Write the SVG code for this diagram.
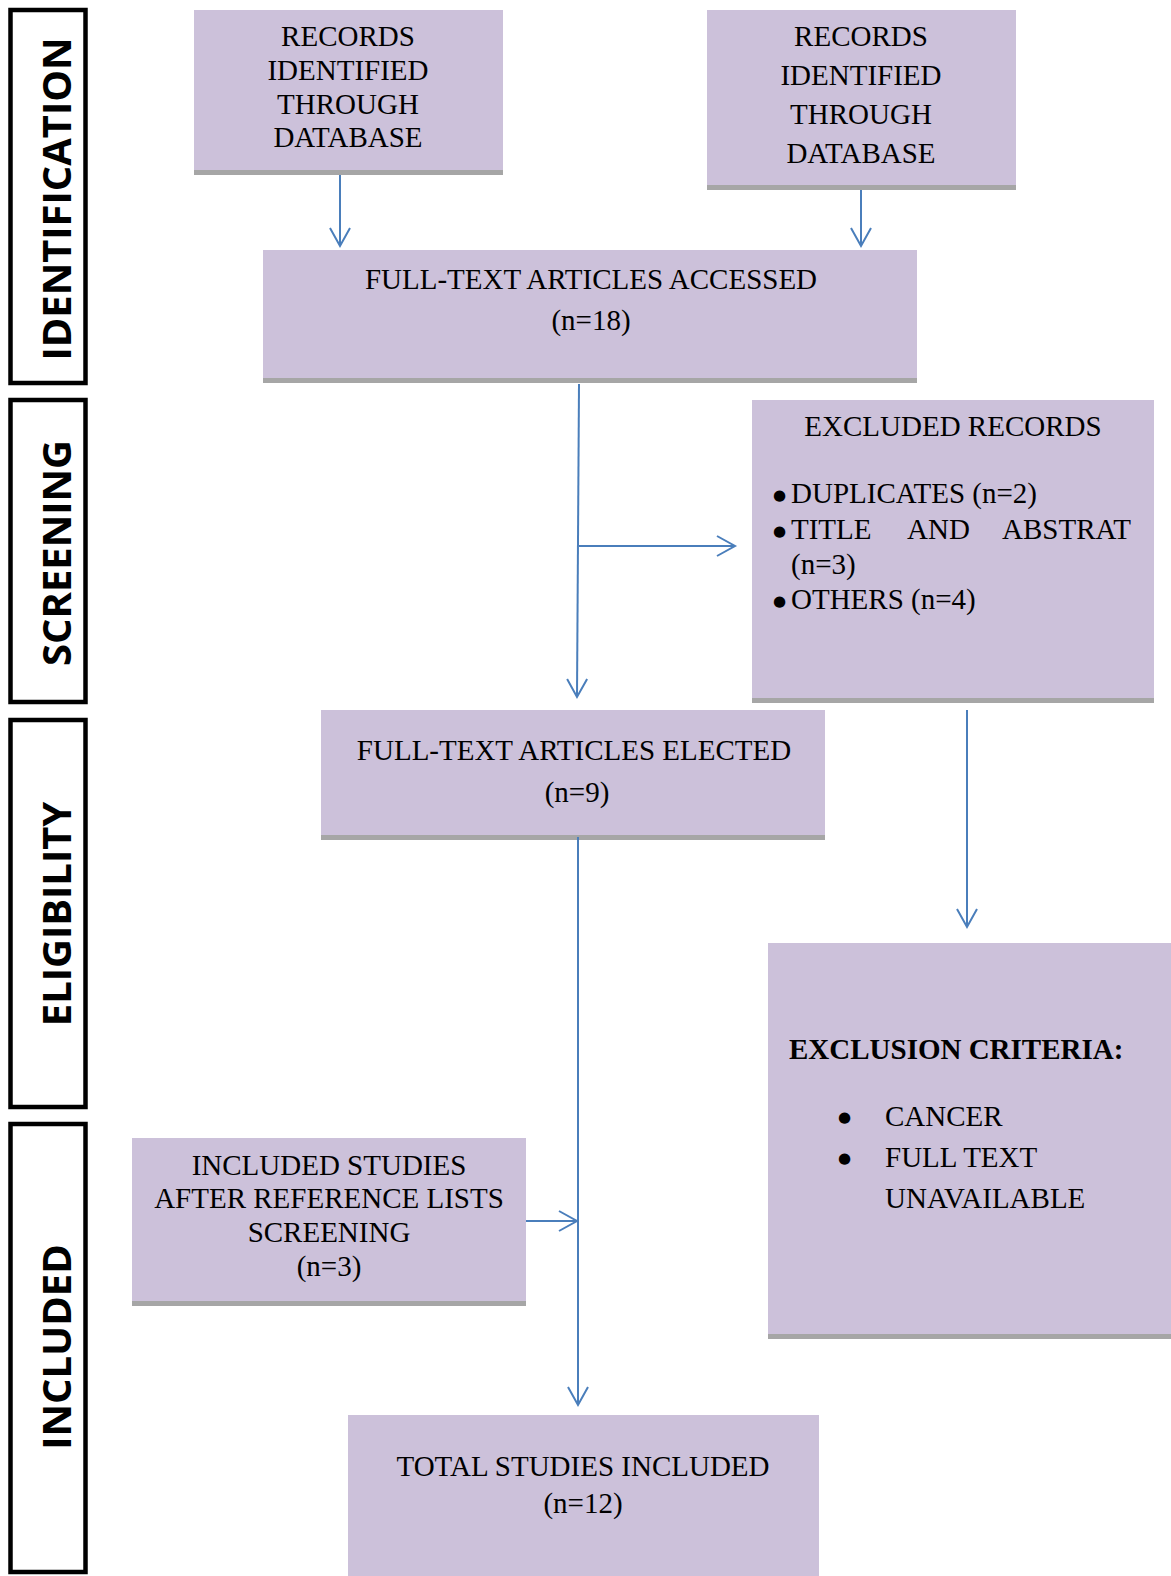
<svg xmlns="http://www.w3.org/2000/svg" width="1171" height="1576" viewBox="0 0 1171 1576">
<style>
.box{fill:#CCC1DA}
.sh{fill:#A6A6A6}
.t{font-family:"Liberation Serif","Times New Roman",serif;font-size:29px;fill:#000}
.bu{font-family:"DejaVu Sans",sans-serif;font-size:15px}
.c{text-anchor:middle}
.b{font-weight:bold}
.side{fill:none;stroke:#000;stroke-width:4.5}
.sl{font-family:"Open Sans","DejaVu Sans",sans-serif;font-weight:bold;font-size:40px;fill:#000;text-anchor:middle}
.con{fill:none;stroke:#4A7EBB;stroke-width:2}
</style>
<defs>
<marker id="ah" markerUnits="userSpaceOnUse" markerWidth="22" markerHeight="24" refX="18" refY="10" orient="auto" overflow="visible">
<path d="M0,0 L18,10 L0,20" fill="none" stroke="#4A7EBB" stroke-width="2"/>
</marker>
</defs>
<rect width="1171" height="1576" fill="#fff"/>

<g id="stage-identification">
<rect class="side" x="10.5" y="10" width="75" height="373"/>
<text class="sl" transform="translate(70.5,199) rotate(-90)">IDENTIFICATION</text>
</g>
<g id="stage-screening">
<rect class="side" x="10.5" y="400" width="75" height="302"/>
<text class="sl" transform="translate(70.5,553) rotate(-90)">SCREENING</text>
</g>
<g id="stage-eligibility">
<rect class="side" x="10.5" y="720" width="75" height="387"/>
<text class="sl" transform="translate(70.5,914) rotate(-90)">ELIGIBILITY</text>
</g>
<g id="stage-included">
<rect class="side" x="10.5" y="1124" width="75" height="448"/>
<text class="sl" transform="translate(70.5,1347) rotate(-90)">INCLUDED</text>
</g>

<g id="records1">
<rect class="box" x="194" y="10" width="309" height="161"/>
<rect class="sh" x="194" y="170" width="309" height="5"/>
<text class="t c" x="348" y="46">RECORDS</text>
<text class="t c" x="348" y="80">IDENTIFIED</text>
<text class="t c" x="348" y="114">THROUGH</text>
<text class="t c" x="348" y="147">DATABASE</text>
</g>
<g id="records2">
<rect class="box" x="707" y="10" width="309" height="176"/>
<rect class="sh" x="707" y="185" width="309" height="5"/>
<text class="t c" x="861" y="46">RECORDS</text>
<text class="t c" x="861" y="85">IDENTIFIED</text>
<text class="t c" x="861" y="124">THROUGH</text>
<text class="t c" x="861" y="163">DATABASE</text>
</g>
<g id="accessed">
<rect class="box" x="263" y="250" width="654" height="129"/>
<rect class="sh" x="263" y="378" width="654" height="5"/>
<text class="t c" x="591" y="289">FULL-TEXT ARTICLES ACCESSED</text>
<text class="t c" x="591" y="330">(n=18)</text>
</g>
<g id="excluded">
<rect class="box" x="752" y="400" width="402" height="299"/>
<rect class="sh" x="752" y="698" width="402" height="5"/>
<text class="t c" x="953" y="436">EXCLUDED RECORDS</text>
<text class="t"><tspan class="bu" x="773" y="500">●</tspan><tspan x="791" y="503">DUPLICATES (n=2)</tspan></text>
<text class="t"><tspan class="bu" x="773" y="536">●</tspan><tspan x="791" y="539">TITLE</tspan><tspan x="907" y="539">AND</tspan><tspan x="1002" y="539">ABSTRAT</tspan><tspan x="791" y="574">(n=3)</tspan></text>
<text class="t"><tspan class="bu" x="773" y="606">●</tspan><tspan x="791" y="609">OTHERS (n=4)</tspan></text>
</g>
<g id="elected">
<rect class="box" x="321" y="710" width="504" height="126"/>
<rect class="sh" x="321" y="835" width="504" height="5"/>
<text class="t c" x="574" y="760">FULL-TEXT ARTICLES ELECTED</text>
<text class="t c" x="577" y="802">(n=9)</text>
</g>
<g id="criteria">
<rect class="box" x="768" y="943" width="403" height="392"/>
<rect class="sh" x="768" y="1334" width="403" height="5"/>
<text class="t b" x="789" y="1059">EXCLUSION CRITERIA:</text>
<text class="t"><tspan class="bu" x="838" y="1122">●</tspan><tspan x="885" y="1126">CANCER</tspan><tspan class="bu" x="838" y="1163">●</tspan><tspan x="885" y="1167">FULL TEXT</tspan><tspan x="885" y="1208">UNAVAILABLE</tspan></text>
</g>
<g id="reflists">
<rect class="box" x="132" y="1138" width="394" height="164"/>
<rect class="sh" x="132" y="1301" width="394" height="5"/>
<text class="t c" x="329" y="1175">INCLUDED STUDIES</text>
<text class="t c" x="329" y="1208">AFTER REFERENCE LISTS</text>
<text class="t c" x="329" y="1242">SCREENING</text>
<text class="t c" x="329" y="1276">(n=3)</text>
</g>
<g id="total">
<rect class="box" x="348" y="1415" width="471" height="161"/>
<text class="t c" x="583" y="1476">TOTAL STUDIES INCLUDED</text>
<text class="t c" x="583" y="1513">(n=12)</text>
</g>

<g id="connectors">
<line class="con" x1="340" y1="175" x2="340" y2="246" marker-end="url(#ah)"/>
<line class="con" x1="861" y1="190" x2="861" y2="246" marker-end="url(#ah)"/>
<line class="con" x1="579" y1="384" x2="577" y2="697" marker-end="url(#ah)"/>
<line class="con" x1="579" y1="546" x2="735" y2="546" marker-end="url(#ah)"/>
<line class="con" x1="967" y1="710" x2="967" y2="927" marker-end="url(#ah)"/>
<line class="con" x1="578" y1="837" x2="578" y2="1405" marker-end="url(#ah)"/>
<line class="con" x1="526" y1="1221" x2="577" y2="1221" marker-end="url(#ah)"/>
</g>
</svg>
